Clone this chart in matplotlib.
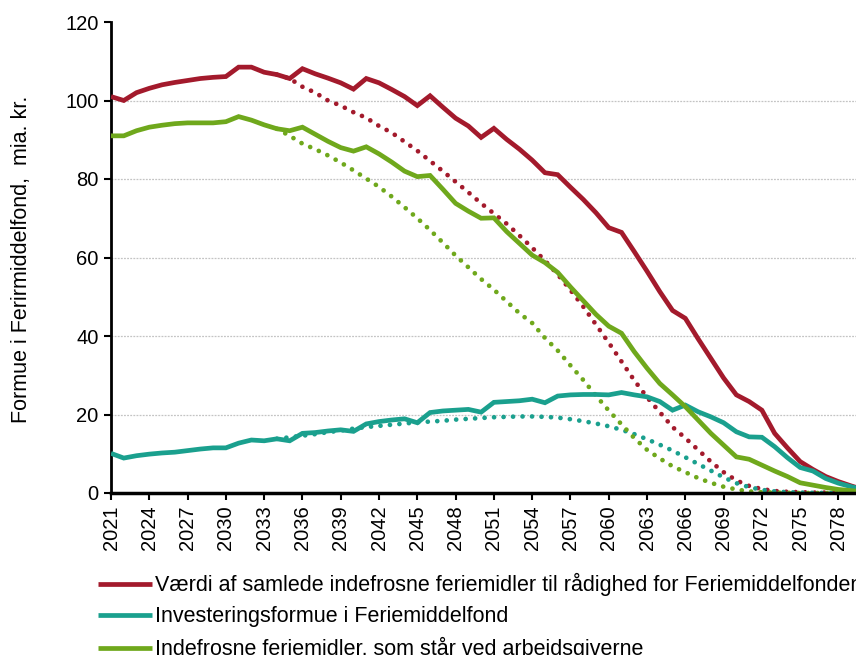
import matplotlib
matplotlib.use("Agg")
import matplotlib.pyplot as plt
import numpy as np

plt.rcParams['font.family'] = ['Liberation Sans', 'DejaVu Sans']

years = list(range(2021, 2081))

vaerdi = [101.0, 100.0, 102.0, 103.1, 104.0, 104.6, 105.1, 105.6, 105.9, 106.1,
          108.5, 108.5, 107.2, 106.6, 105.6, 108.1, 106.8, 105.7, 104.5, 102.9,
          105.6, 104.5, 102.8, 101.0, 98.7, 101.2, 98.3, 95.5, 93.5, 90.6,
          92.9, 90.1, 87.6, 84.8, 81.6, 81.1, 77.9, 74.8, 71.4, 67.6,
          66.4, 61.5, 56.5, 51.3, 46.5, 44.5, 39.3, 34.3, 29.3, 25.0,
          23.3, 21.1, 15.2, 11.5, 8.0, 6.0, 4.2, 2.9, 1.8, 0.8]

invest = [10.1, 8.9, 9.5, 9.9, 10.2, 10.4, 10.8, 11.2, 11.5, 11.5,
          12.7, 13.5, 13.3, 13.8, 13.3, 15.2, 15.4, 15.8, 16.1, 15.7,
          17.6, 18.2, 18.6, 18.9, 17.9, 20.5, 20.9, 21.1, 21.3, 20.6,
          23.1, 23.3, 23.5, 23.9, 23.0, 24.7, 25.0, 25.1, 25.1, 25.0,
          25.6, 25.0, 24.5, 23.3, 21.1, 22.4, 20.7, 19.4, 17.9, 15.6,
          14.3, 14.2, 11.8, 9.0, 6.5, 5.6, 3.7, 2.5, 1.6, 0.8]

arbejdsgivere = [91.0, 91.0, 92.3, 93.2, 93.7, 94.1, 94.3, 94.3, 94.3, 94.6,
                 95.9, 95.0, 93.8, 92.8, 92.3, 93.2, 91.4, 89.6, 88.0, 87.1,
                 88.2, 86.4, 84.3, 82.0, 80.6, 80.9, 77.4, 73.8, 71.8, 70.0,
                 70.1, 66.6, 63.6, 60.6, 58.7, 56.2, 52.5, 49.0, 45.5, 42.5,
                 40.7, 36.0, 31.8, 27.9, 25.0, 22.0, 18.6, 15.2, 12.2, 9.2,
                 8.6, 7.1, 5.6, 4.2, 2.6, 2.0, 1.4, 0.9, 0.6, 0.3]

years_alt = list(range(2034, 2081))

vaerdi_alt = [106.6, 105.6, 103.5, 102.0, 100.0, 98.7, 97.0, 95.6, 93.5, 91.8,
              89.5, 87.2, 84.6, 82.0, 79.3, 76.6, 73.8, 71.2, 68.6, 65.6,
              62.5, 59.2, 55.7, 51.7, 47.5, 42.9, 38.3, 33.5, 28.7, 24.4,
              20.6, 16.8, 14.0, 11.0, 8.0, 5.3, 3.2, 1.8, 1.0, 0.5,
              0.3, 0.2, 0.1, 0.1, 0.05, 0.05, 0.0]

invest_alt = [13.8, 14.2, 14.6, 15.0, 15.5, 15.9, 16.4, 16.8, 17.1, 17.4,
              17.7, 18.0, 18.2, 18.4, 18.7, 18.9, 19.1, 19.3, 19.4, 19.5,
              19.5, 19.4, 19.2, 18.8, 18.3, 17.7, 17.0, 16.1, 15.0, 13.7,
              12.3, 10.8, 9.1, 7.4, 5.7, 4.0, 2.5, 1.5, 0.8, 0.4,
              0.2, 0.1, 0.05, 0.0, 0.0, 0.0, 0.0]

arbejdsgivere_alt = [92.8, 91.0, 89.0, 87.6, 86.0, 84.2, 82.2, 80.1, 78.0, 75.5,
                     72.8, 70.0, 67.0, 63.8, 60.5, 57.5, 54.5, 51.8, 48.8, 45.8,
                     43.3, 39.5, 36.3, 32.5, 28.8, 24.8, 21.0, 17.5, 14.0, 11.0,
                     8.8, 6.8, 5.3, 3.8, 2.6, 1.6, 0.9, 0.4, 0.2, 0.1,
                     0.05, 0.0, 0.0, 0.0, 0.0, 0.0, 0.0]

labels = ["Værdi af samlede indefrosne feriemidler til rådighed for Feriemiddelfonden",
          "Investeringsformue i Feriemiddelfond",
          "Indefrosne feriemidler, som står ved arbejdsgiverne"]
colors = ["#A31A2C", "#1AA08E", "#6FA81C"]
ylabel = "Formue i Ferirmiddelfond,  mia. kr."

W, H = 856, 655
fig = plt.figure(figsize=(W / 100, H / 100), dpi=100)
left, right, top, bottom = 111, 864, 22, 493
ax = fig.add_axes([left / W, 1 - bottom / H, (right - left) / W, (bottom - top) / H])

dot = (0, (0.01, 2.0))
for alt, c in zip([vaerdi_alt, invest_alt, arbejdsgivere_alt], colors):
    ax.plot(years_alt, alt, color=c, lw=3.4, linestyle=dot,
            dash_capstyle='round', zorder=2)

handles = []
for series, c, lab in zip([vaerdi, invest, arbejdsgivere], colors, labels):
    h, = ax.plot(years, series, color=c, lw=3.4, solid_joinstyle='miter',
                 solid_capstyle='butt', label=lab, zorder=3)
    handles.append(h)

ax.set_xlim(2021, 2080)
ax.set_ylim(0, 120)
ax.set_yticks(range(0, 121, 20))
ax.set_xticks(years[::3])
ax.set_xticklabels([str(y) for y in years[::3]], rotation=90, fontsize=14.5)
ax.tick_params(axis='y', labelsize=14.5, direction='out', length=5, width=1.5, pad=4)
ax.tick_params(axis='x', direction='out', length=5, width=1.5, pad=4)
for s in ['top', 'right']:
    ax.spines[s].set_visible(False)
ax.spines['left'].set_linewidth(2)
ax.spines['bottom'].set_linewidth(2.5)
ax.spines['bottom'].set_zorder(5)
ax.yaxis.grid(True, color='#c4c4c4', linestyle=(0, (1.5, 1)), linewidth=0.9)
ax.set_axisbelow(True)
gl = ax.get_ygridlines()
gl[0].set_visible(False)
gl[-1].set_visible(False)

fig.text(22 / W, 1 - 259 / H, ylabel, rotation=90, ha='center', va='center',
         fontsize=15.5)

fig.legend(handles=handles, labels=labels, loc='upper left',
           bbox_to_anchor=(98 / W, 1 - 573 / H), frameon=False, fontsize=15.5,
           handlelength=2.5, handletextpad=0.15, labelspacing=0.47,
           borderaxespad=0, borderpad=0)

fig.savefig("out.png", dpi=100)
